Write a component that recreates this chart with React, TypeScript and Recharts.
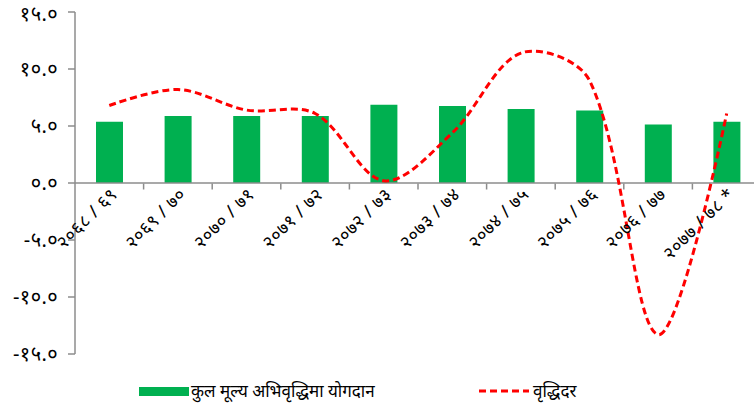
import React from 'react';
import { ComposedChart, Bar, Line, XAxis, YAxis, ReferenceLine, Legend } from 'recharts';

const categories = ['२०६८ / ६९', '२०६९ / ७०', '२०७० / ७१', '२०७१ / ७२', '२०७२ / ७३', '२०७३ / ७४', '२०७४ / ७५', '२०७५ / ७६', '२०७६ / ७७', '२०७७ / ७८ *'];
const contribution = [5.38, 5.88, 5.88, 5.88, 6.87, 6.75, 6.49, 6.37, 5.14, 5.38];
const growthRate = [6.8, 8.2, 6.4, 6.1, 0.2, 4.4, 11.4, 9.0, -13.3, 6.1];
const yTicks = [-15, -10, -5, 0, 5, 10, 15];
const barName = 'कुल मूल्य अभिवृद्धिमा योगदान';
const lineName = 'वृद्धिदर';

const data = categories.map((c, i) => ({ cat: c, bar: contribution[i], line: growthRate[i] }));

const DEV = ['०', '१', '२', '३', '४', '५', '६', '७', '८', '९'];
const toDev = (s: string) => s.replace(/[0-9]/g, (d) => DEV[+d]);
const fmtY = (v: number) => toDev(v.toFixed(1));

const FONT = "'Noto Sans', sans-serif";
const GREEN = '#00B050';
const RED = '#FF0000';
const AXIS = '#8c8c8c';

const W = 770;
const H = 411;
const M = { top: 12, right: 9, bottom: 56, left: 0 };
const YW = 75;
const plotH = H - M.top - M.bottom;
const zeroY = M.top + plotH / 2;
const band = (W - M.left - M.right - YW) / categories.length;

// Excel-like smoothing: Bezier with tangents scaled by adjacent chord lengths
class Smooth {
  _context: any;
  _pts: number[][] = [];
  constructor(context: any) { this._context = context; }
  areaStart() {}
  areaEnd() {}
  lineStart() { this._pts = []; }
  point(x: number, y: number) { this._pts.push([+x, +y]); }
  lineEnd() {
    const p = this._pts;
    const n = p.length;
    const c = this._context;
    if (!n) return;
    c.moveTo(p[0][0], p[0][1]);
    if (n === 1) return;
    if (n === 2) { c.lineTo(p[1][0], p[1][1]); return; }
    const inn: number[][] = [];
    const out: number[][] = [];
    for (let i = 0; i < n; i++) {
      if (i === 0 || i === n - 1) { inn[i] = p[i]; out[i] = p[i]; continue; }
      const tx = p[i + 1][0] - p[i - 1][0];
      const ty = p[i + 1][1] - p[i - 1][1];
      const d0 = Math.hypot(p[i][0] - p[i - 1][0], p[i][1] - p[i - 1][1]);
      const d1 = Math.hypot(p[i + 1][0] - p[i][0], p[i + 1][1] - p[i][1]);
      const s = d0 + d1 || 1;
      inn[i] = [p[i][0] - (tx * d0) / s / 3, p[i][1] - (ty * d0) / s / 3];
      out[i] = [p[i][0] + (tx * d1) / s / 3, p[i][1] + (ty * d1) / s / 3];
    }
    for (let i = 0; i < n - 1; i++) {
      c.bezierCurveTo(out[i][0], out[i][1], inn[i + 1][0], inn[i + 1][1], p[i + 1][0], p[i + 1][1]);
    }
  }
}
const smoothCurve: any = (context: any) => new Smooth(context);

const XTick = (props: any) => {
  const { x, payload } = props;
  return (
    <g>
      <line x1={x + band / 2} x2={x + band / 2} y1={zeroY} y2={zeroY + 6} stroke={AXIS} strokeWidth={1.5} />
      <text
        x={0}
        y={0}
        transform={`translate(${x + 9},${zeroY + 12}) rotate(-45)`}
        textAnchor="end"
        fontSize={18}
        letterSpacing={0.5}
        fontFamily={FONT}
        fill="#000"
      >
        {payload.value}
      </text>
    </g>
  );
};

const LegendContent = () => (
  <svg width={754} height={30}>
    <rect x={139} y={9} width={50} height={9} fill={GREEN} />
    <text x={191} y={19} fontSize={17} fontFamily={FONT} fill="#000">{barName}</text>
    <line x1={479} x2={529} y1={13} y2={13} stroke={RED} strokeWidth={3} strokeDasharray="7 4" />
    <text x={533} y={19} fontSize={17} fontFamily={FONT} fill="#000">{lineName}</text>
  </svg>
);

export default function App() {
  return (
    <div style={{ position: 'absolute', left: 0, top: 0, width: 754, height: 411, overflow: 'hidden', background: '#fff' }}>
      <ComposedChart width={W} height={H} data={data} margin={M}>
        <XAxis dataKey="cat" axisLine={false} tickLine={false} height={1} tick={<XTick />} interval={0} />
        <YAxis
          width={YW}
          domain={[-15, 15]}
          ticks={yTicks}
          tickFormatter={fmtY}
          axisLine={{ stroke: AXIS, strokeWidth: 1.5 }}
          tickLine={{ stroke: AXIS, strokeWidth: 1.5 }}
          tickSize={7}
          tickMargin={10}
          tick={{ fontSize: 20, fill: '#000', fontFamily: FONT, letterSpacing: 0.4 }}
        />
        <ReferenceLine y={0} stroke={AXIS} strokeWidth={1.5} />
        <Bar dataKey="bar" name={barName} fill={GREEN} barSize={27} isAnimationActive={false} />
        <Line
          dataKey="line"
          name={lineName}
          type={smoothCurve}
          stroke={RED}
          strokeWidth={3}
          strokeDasharray="7 4"
          dot={false}
          activeDot={false}
          isAnimationActive={false}
        />
        <Legend
          layout="vertical"
          align="center"
          verticalAlign="middle"
          content={<LegendContent />}
          wrapperStyle={{ left: 0, top: 378, width: 754, height: 30 }}
        />
      </ComposedChart>
    </div>
  );
}
